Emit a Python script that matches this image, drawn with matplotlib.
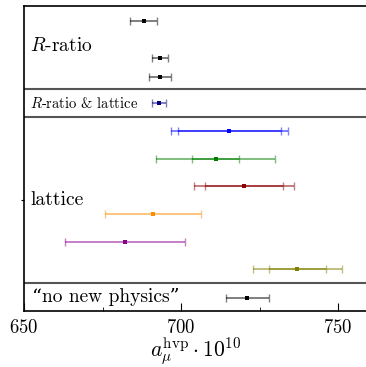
import numpy as np
import matplotlib.pyplot as plt

plt.rcParams['font.family'] = ['cmr10', 'DejaVu Serif']
plt.rcParams['mathtext.fontset'] = 'cm'
plt.rcParams['axes.formatter.use_mathtext'] = True

# ----------------------------
# values (a_mu^hvp * 1e10)
# ----------------------------
rratio_y = [8.45, 9.14, 10.47]
rratio_val = [693.3, 693.3, 688.1]
rratio_err = [3.5, 2.6, 4.2]

combo_y = [7.5]
combo_val = [693.0]
combo_err = [2.2]

lat_y = [6.5, 5.5, 4.5, 3.5, 2.5, 1.5]
lat_val = [715.4, 711.0, 720.0, 691.1, 682.1, 737.0]
lat_err_stat = [16.3, 7.5, 12.4, 15.3, 19.0, 9.0]
lat_err_tot = [18.6, 18.9, 16.0, 15.3, 19.0, 14.1]
lat_colors = ['blue', 'green', 'darkred', 'darkorange', 'darkmagenta', 'olive']

nnp_y = [0.48]
nnp_val = [721.1]
nnp_err = [6.9]

separators = [1.0, 7.0, 8.0]

fig = plt.figure(figsize=(3.66, 3.67), dpi=100)
ax = fig.add_axes([24/366, 56/367, 344/366, 305/367])

def bar(x, y, err, color, stat=None):
    ax.errorbar(x, y, xerr=err, fmt='none', ecolor=color, alpha=0.5,
                elinewidth=1.4, capsize=2.8, capthick=1.0)
    if stat is not None:
        ax.errorbar(x, y, xerr=stat, fmt='none', ecolor=color, alpha=0.5,
                    elinewidth=1.4, capsize=2.8, capthick=1.0)
    ax.plot(x, y, 's', color=color, ms=3.2, mew=0)

bar(rratio_val, rratio_y, rratio_err, 'black')
bar(combo_val, combo_y, combo_err, 'navy')
for i in range(len(lat_y)):
    bar([lat_val[i]], [lat_y[i]], [lat_err_tot[i]], lat_colors[i],
        stat=[lat_err_stat[i]] if lat_err_stat[i] != lat_err_tot[i] else None)
bar(nnp_val, nnp_y, nnp_err, 'black')

for s in separators:
    ax.axhline(s, color='#555555', lw=1.5)

ax.text(651.8, 9.55, '$R$-ratio', fontsize=14, va='center')
ax.text(651.8, 7.5, '$R$-ratio & lattice', fontsize=10.5, va='center')
ax.text(652.0, 4.0, 'lattice', fontsize=14.2, va='center')
ax.text(652.7, 0.5, '\u201cno new physics\u201d', fontsize=14, va='center')

ax.set_xlim(650, 759.5)
ax.set_ylim(0, 11)
ax.set_xticks([650, 700, 750])
ax.set_xticks([675, 725], minor=True)
ax.tick_params(axis='x', which='major', direction='in', length=6, labelsize=13.5, pad=6)
ax.tick_params(axis='x', which='minor', direction='in', length=3)
ax.set_yticks([4])
ax.set_yticklabels([''])
ax.tick_params(axis='y', direction='out', length=2)
ax.spines['right'].set_visible(False)
for sp in ['left', 'top', 'bottom']:
    ax.spines[sp].set_linewidth(1.2)

ax.set_xlabel(r'$a_\mu^{\mathrm{hvp}}\cdot 10^{10}$', fontsize=15.5, labelpad=-1)

fig.savefig('out.png', dpi=100)
